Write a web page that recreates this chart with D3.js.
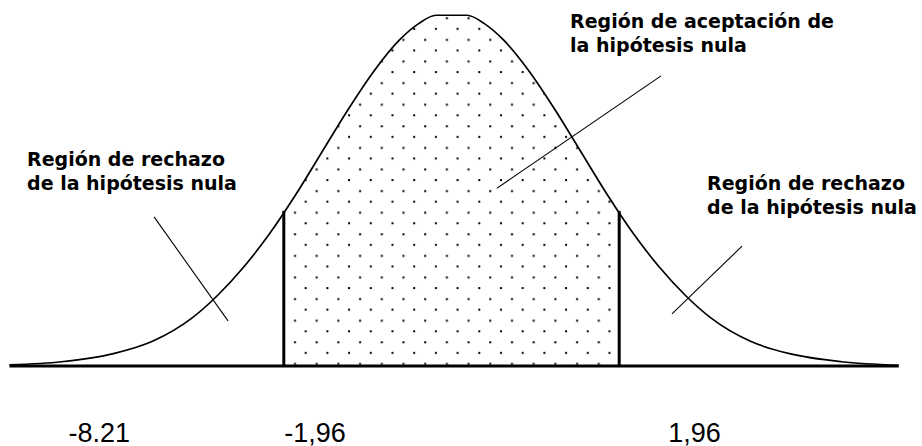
<!DOCTYPE html>
<html>
<head>
<meta charset="utf-8">
<script src="https://cdn.jsdelivr.net/npm/d3@7"></script>
<style>
  body { margin: 0; background: #fff; }
  .label { font-family: "DejaVu Sans", Verdana, sans-serif; font-weight: bold; font-size: 19px; fill: #000; }
  .value { font-family: "Liberation Sans", Arial, sans-serif; font-size: 27px; fill: #000; }
</style>
</head>
<body>
<svg width="922" height="446"></svg>
<script>
// curve: x in sigma units, height relative to the peak
const curveZ = [-3.4, -3.0, -2.6, -2.3, -2.0, -1.8, -1.6, -1.4, -1.2, -1.0, -0.8, -0.6, -0.4, -0.25, -0.12,
                0.12, 0.25, 0.4, 0.6, 0.8, 1.0, 1.2, 1.4, 1.6, 1.8, 2.0, 2.3, 2.6, 3.0, 3.44];
const curveH = [0.003, 0.012, 0.035, 0.07, 0.135, 0.2, 0.28, 0.375, 0.485, 0.605, 0.725, 0.835, 0.925, 0.972, 0.995,
                0.995, 0.972, 0.925, 0.835, 0.725, 0.605, 0.485, 0.375, 0.28, 0.2, 0.135, 0.07, 0.035, 0.012, 0.002];

// critical lines (as drawn) and their height on the curve
const critZ = [-1.29, 1.29];
const critH = 0.44;

// labels under the axis
const valueText = ['-8.21', '-1,96', '1,96'];
const valueZ = [-2.71, -1.05, 1.87];

// region labels: [z, h] of first line start, and the text lines
const regionText = [
  ['Región de rechazo', 'de la hipótesis nula'],
  ['Región de aceptación de', 'la hipótesis nula'],
  ['Región de rechazo', 'de la hipótesis nula']
];
const regionPos = [[-3.265, 0.566], [0.912, 0.958], [1.966, 0.498]];

// pointer lines [z1, h1, z2, h2]
const pointers = [
  [-2.288, 0.423, -1.719, 0.128],
  [0.348, 0.504, 1.612, 0.823],
  [1.696, 0.148, 2.235, 0.340]
];

const svg = d3.select('svg');

const x = d3.scaleLinear().domain([-3.4, 3.44]).range([9.5, 898.7]);
const y = d3.scaleLinear().domain([0, 1]).range([366, 13.5]);

const pts = curveZ.map((z, i) => ({z: z, h: curveH[i]}));

// dotted fill pattern (staggered grid)
const defs = svg.append('defs');
const pat = defs.append('pattern')
  .attr('id', 'dots')
  .attr('patternUnits', 'userSpaceOnUse')
  .attr('x', 300.7).attr('y', 196.7)
  .attr('width', 21.7).attr('height', 21.6);
pat.append('rect').attr('x', 4).attr('y', 4).attr('width', 2).attr('height', 2).attr('fill', '#000');
pat.append('rect').attr('x', 15).attr('y', 15).attr('width', 2).attr('height', 2).attr('fill', '#000');

defs.append('clipPath').attr('id', 'mid')
  .append('rect')
  .attr('x', x(critZ[0])).attr('y', 0)
  .attr('width', x(critZ[1]) - x(critZ[0])).attr('height', y(0));

const area = d3.area()
  .x(d => x(d.z))
  .y0(y(0))
  .y1(d => y(d.h))
  .curve(d3.curveMonotoneX);

svg.append('path')
  .attr('d', area(pts))
  .attr('fill', 'url(#dots)')
  .attr('clip-path', 'url(#mid)');

// base line
svg.append('line')
  .attr('x1', x(-3.4)).attr('x2', x(3.44))
  .attr('y1', y(0)).attr('y2', y(0))
  .attr('stroke', '#000').attr('stroke-width', 3);

// the bell curve
const line = d3.line()
  .x(d => x(d.z))
  .y(d => y(d.h))
  .curve(d3.curveMonotoneX);

svg.append('path')
  .attr('d', line(pts))
  .attr('fill', 'none')
  .attr('stroke', '#000')
  .attr('stroke-width', 1.7);

// critical lines
svg.selectAll('.crit').data(critZ)
  .enter().append('line')
  .attr('class', 'crit')
  .attr('x1', d => x(d)).attr('x2', d => x(d))
  .attr('y1', y(0)).attr('y2', y(critH))
  .attr('stroke', '#000').attr('stroke-width', 3);

// pointers
svg.selectAll('.ptr').data(pointers)
  .enter().append('line')
  .attr('class', 'ptr')
  .attr('x1', d => x(d[0])).attr('y1', d => y(d[1]))
  .attr('x2', d => x(d[2])).attr('y2', d => y(d[3]))
  .attr('stroke', '#000').attr('stroke-width', 1.1);

// region texts
regionText.forEach((lines, i) => {
  const t = svg.append('text')
    .attr('class', 'label')
    .attr('x', x(regionPos[i][0]))
    .attr('y', y(regionPos[i][1]));
  lines.forEach((s, j) => {
    t.append('tspan')
      .attr('x', x(regionPos[i][0]))
      .attr('dy', j === 0 ? 0 : 23.2)
      .text(s);
  });
});

// values under the axis
svg.selectAll('.value').data(valueText)
  .enter().append('text')
  .attr('class', 'value')
  .attr('text-anchor', 'middle')
  .attr('x', (d, i) => x(valueZ[i]))
  .attr('y', 441.5)
  .text(d => d);
</script>
</body>
</html>
